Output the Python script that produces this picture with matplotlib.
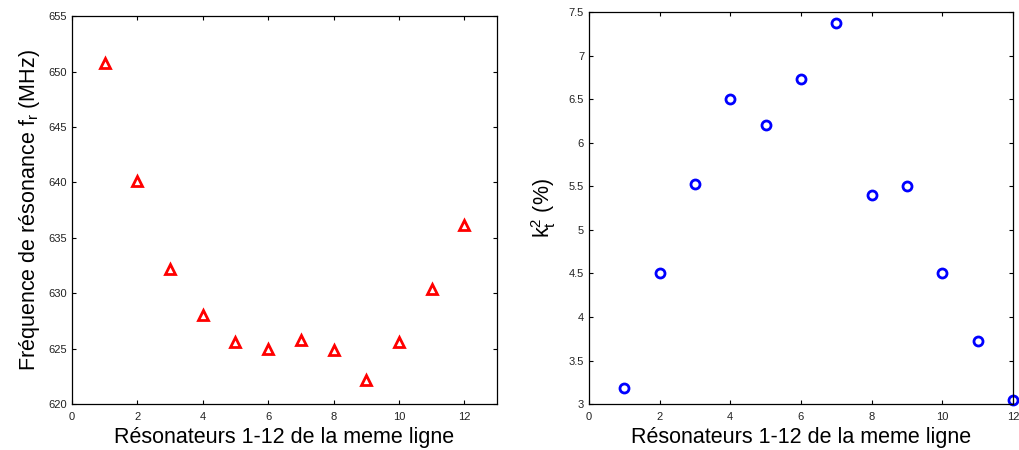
import matplotlib
matplotlib.use('Agg')
import matplotlib.pyplot as plt

plt.rcParams['font.family'] = ['Liberation Sans', 'DejaVu Sans']
plt.rcParams['mathtext.fontset'] = 'custom'
plt.rcParams['mathtext.rm'] = 'Liberation Sans'
plt.rcParams['mathtext.it'] = 'Liberation Sans'

resonators = [1, 2, 3, 4, 5, 6, 7, 8, 9, 10, 11, 12]
freq_mhz = [650.8, 640.1, 632.2, 628.0, 625.6, 625.0, 625.8, 624.9, 622.2, 625.6, 630.4, 636.2]
kt2_pct = [3.18, 4.50, 5.53, 6.50, 6.20, 6.73, 7.38, 5.40, 5.50, 4.50, 3.73, 3.05]

xlabel = 'Résonateurs 1-12 de la meme ligne'

fig = plt.figure(figsize=(10.19, 4.5), dpi=100)
ax1 = fig.add_axes([0.0707, 0.102, 0.417, 0.862])
ax2 = fig.add_axes([0.578, 0.102, 0.416, 0.871])


def style(ax):
    ax.tick_params(direction='in', top=True, right=True, labelsize=8,
                   length=3, width=0.8, labelcolor='#222222')
    ax.tick_params(axis='x', pad=6)
    for s in ax.spines.values():
        s.set_linewidth(0.9)


ax1.plot(resonators, freq_mhz, linestyle='none', marker='^', markersize=7.5,
         markerfacecolor='none', markeredgecolor='red', markeredgewidth=2)
ax1.set_xlim(0, 13)
ax1.set_ylim(620, 655)
ax1.set_xticks(range(0, 13, 2))
ax1.set_yticks(range(620, 656, 5))
ax1.set_xlabel(xlabel, fontsize=15.5, labelpad=3)
ax1.set_ylabel('Fréquence de résonance f$_r$ (MHz)', fontsize=15.5, labelpad=5)
style(ax1)

ax2.plot(resonators, kt2_pct, linestyle='none', marker='o', markersize=6.5,
         markerfacecolor='none', markeredgecolor='blue', markeredgewidth=2,
         clip_on=False)
ax2.set_xlim(0, 12)
ax2.set_ylim(3, 7.5)
ax2.set_xticks(range(0, 13, 2))
ax2.set_yticks([3, 3.5, 4, 4.5, 5, 5.5, 6, 6.5, 7, 7.5])
ax2.set_yticklabels(['3', '3.5', '4', '4.5', '5', '5.5', '6', '6.5', '7', '7.5'])
ax2.set_xlabel(xlabel, fontsize=15.5, labelpad=3)
ax2.set_ylabel('k$_t^2$ (%)', fontsize=15.5, labelpad=8)
style(ax2)

fig.savefig('out.png', dpi=100)
